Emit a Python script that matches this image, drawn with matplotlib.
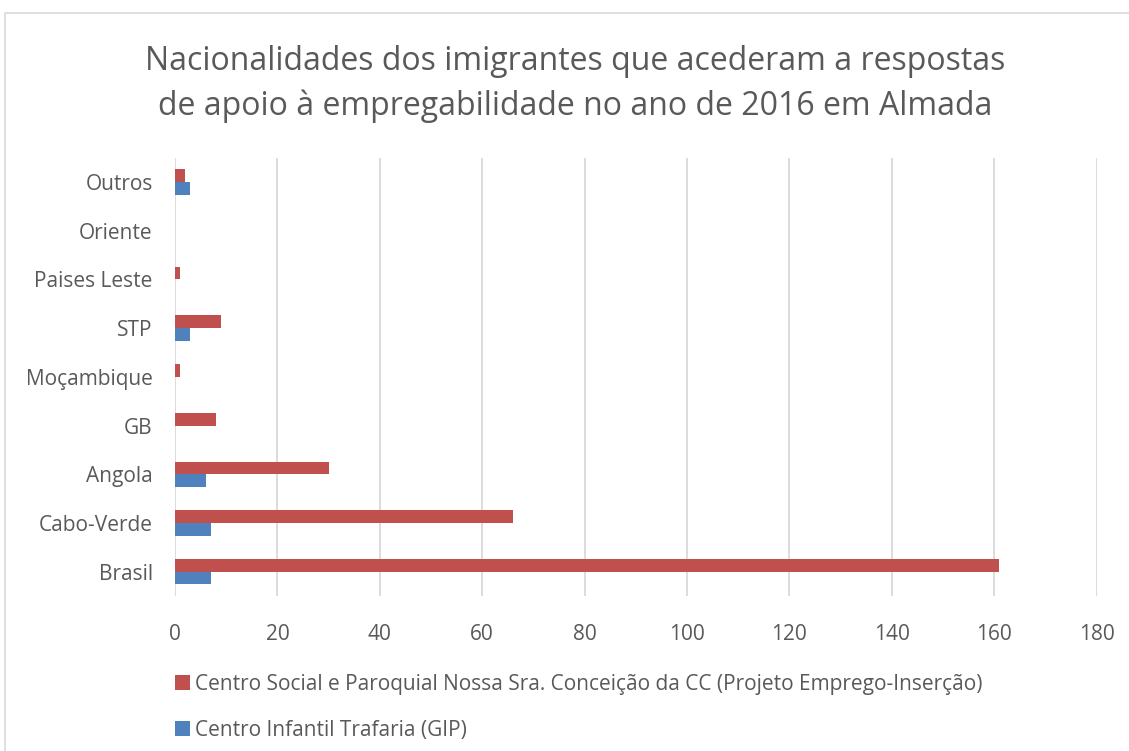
import matplotlib
matplotlib.use('Agg')
import matplotlib.pyplot as plt
from matplotlib.patches import Rectangle
import numpy as np

plt.rcParams['font.family'] = ['Open Sans', 'DejaVu Sans']

categories = ['Brasil', 'Cabo-Verde', 'Angola', 'GB', 'Moçambique',
              'STP', 'Paises Leste', 'Oriente', 'Outros']
centro_social = [161, 66, 30, 8, 1, 9, 1, 0, 2]
centro_infantil = [7, 7, 6, 0, 0, 3, 0, 0, 3]

label_social = 'Centro Social e Paroquial Nossa Sra. Conceição da CC (Projeto Emprego-Inserção)'
label_infantil = 'Centro Infantil Trafaria (GIP)'
title = 'Nacionalidades dos imigrantes que acederam a respostas\nde apoio à empregabilidade no ano de 2016 em Almada'

red = '#C0504D'
blue = '#4F81BD'
grey_text = '#595959'
grid_col = '#D9D9D9'

W, H = 1129, 751
fig = plt.figure(figsize=(W / 100, H / 100), dpi=100)

# chart frame (only top and left edges fall inside the canvas)
fig.patches.append(Rectangle((5 / W, -0.1), 1.2, (H - 13) / H + 0.1,
                             transform=fig.transFigure, fill=False,
                             edgecolor='#D9D9D9', linewidth=1.2))

ax = fig.add_axes([175 / W, 1 - 596 / H, 921.5 / W, (596 - 157.6) / H])

y = np.arange(len(categories))
h = 0.26
ax.barh(y + h / 2, centro_social, height=h, color=red, label=label_social, zorder=3)
ax.barh(y - h / 2, centro_infantil, height=h, color=blue, label=label_infantil, zorder=3)

ax.set_xlim(0, 180)
ax.set_ylim(-0.5, len(categories) - 0.5)
ax.set_xticks(range(0, 181, 20))
ax.set_yticks(y)
ax.set_yticklabels(categories)
ax.grid(axis='x', color=grid_col, linewidth=1.3, zorder=0)
for s in ax.spines.values():
    s.set_visible(False)
ax.tick_params(length=0, labelsize=15, labelcolor=grey_text)
ax.tick_params(axis='y', pad=16)
ax.tick_params(axis='x', pad=20)

fig.text(575 / W, 1 - 84 / H, title, ha='center', va='center',
         fontsize=23, color=grey_text, linespacing=1.45)

handles, labels = ax.get_legend_handles_labels()
leg = fig.legend(handles, labels, loc='upper left',
                 bbox_to_anchor=(175 / W, 1 - 674 / H), frameon=False,
                 borderpad=0, borderaxespad=0,
                 fontsize=15, labelcolor=grey_text, handlelength=0.7,
                 handleheight=0.75, handletextpad=0.25, labelspacing=1.2)

fig.savefig('out.png', dpi=100)
